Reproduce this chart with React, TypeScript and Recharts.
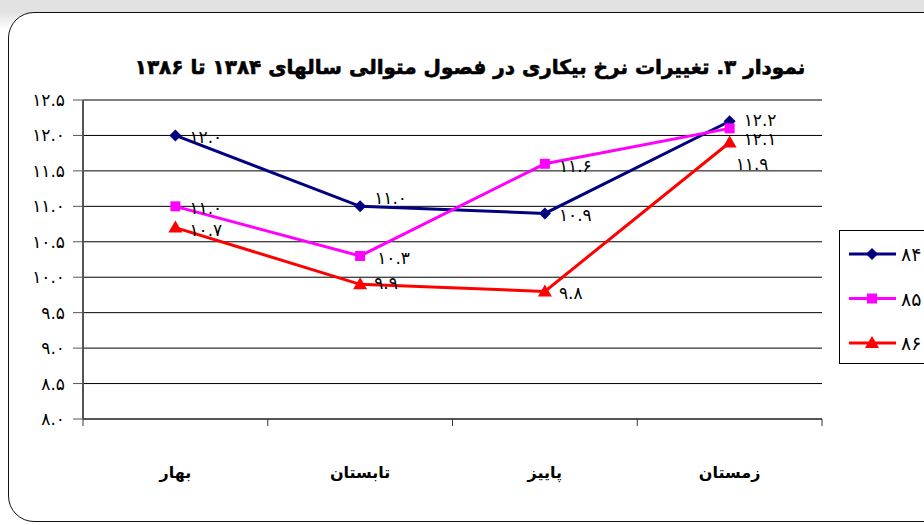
import React from "react";
import { LineChart, Line, XAxis, YAxis, CartesianGrid, LabelList } from "recharts";

const seasons = ["بهار", "تابستان", "پاییز", "زمستان"];
const seriesNames = ["۸۴", "۸۵", "۸۶"];
const rate84 = [12.0, 11.0, 10.9, 12.2];
const rate85 = [11.0, 10.3, 11.6, 12.1];
const rate86 = [10.7, 9.9, 9.8, 11.9];
const yTicks = [8, 8.5, 9, 9.5, 10, 10.5, 11, 11.5, 12, 12.5];
const xBounds = [0, 1, 2, 3, 4];

const title = "نمودار ۳. تغییرات نرخ بیکاری در فصول متوالی سالهای ۱۳۸۴ تا ۱۳۸۶";

const FA = "۰۱۲۳۴۵۶۷۸۹";
const toFa = (n: number) => n.toFixed(1).replace(/\d/g, (d) => FA[Number(d)]);

const FONT = "'DejaVu Sans', sans-serif";

const data = seasons.map((s, i) => ({
  season: s,
  x: i + 0.5,
  s84: rate84[i],
  s85: rate85[i],
  s86: rate86[i],
}));

const series = [
  { key: "s84", name: seriesNames[0], color: "#000080", shape: "diamond" },
  { key: "s85", name: seriesNames[1], color: "#FF00FF", shape: "square" },
  { key: "s86", name: seriesNames[2], color: "#FF0000", shape: "triangle" },
];

// hand nudges for labels that Excel moved to avoid overlaps
const nudge: Record<string, [number, number][]> = {
  s84: [[0, 0], [0, -10], [0, 0], [0, -3]],
  s85: [[0, 0], [3, 0], [0, 0], [0, 9]],
  s86: [[0, 0], [0, -3], [0, 0], [-8, 19]],
};

function Marker({ cx, cy, shape, color }: any) {
  if (shape === "diamond") {
    return <polygon points={`${cx},${cy - 6} ${cx + 6},${cy} ${cx},${cy + 6} ${cx - 6},${cy}`} fill={color} />;
  }
  if (shape === "square") {
    return <rect x={cx - 5} y={cy - 5} width={10} height={10} fill={color} />;
  }
  return <polygon points={`${cx},${cy - 7} ${cx + 7},${cy + 5} ${cx - 7},${cy + 5}`} fill={color} />;
}

function SeasonTick(props: any) {
  const { x, y, payload, index } = props;
  const step = (props.width || 739) / seasons.length;
  if (index >= seasons.length) return null;
  return (
    <text
      x={x + step / 2}
      y={y + 52}
      textAnchor="middle"
      fontFamily={FONT}
      fontWeight="bold"
      fontSize={16}
      fill="#000"
    >
      {seasons[payload.value]}
    </text>
  );
}

function makeLabel(key: string) {
  return (p: any) => {
    const [dx, dy] = nudge[key][p.index] || [0, 0];
    return (
      <text
        x={p.x + 14 + dx}
        y={p.y + 8 + dy}
        fontFamily={FONT}
        fontSize={17}
        fill="#000"
      >
        {toFa(p.value)}
      </text>
    );
  };
}

function LegendBox() {
  return (
    <div
      style={{
        position: "absolute",
        left: 839,
        top: 230,
        width: 110,
        height: 132,
        border: "1px solid #000",
        background: "#fff",
      }}
    >
      <svg width={110} height={132}>
        {series.map((s, i) => {
          const cy = 23 + i * 44.5;
          return (
            <g key={s.key}>
              <line x1={9} x2={56} y1={cy} y2={cy} stroke={s.color} strokeWidth={3} />
              <Marker cx={32} cy={cy} shape={s.shape} color={s.color} />
              <text x={61} y={cy + 7} fontFamily={FONT} fontSize={19} fill="#000">
                {s.name}
              </text>
            </g>
          );
        })}
      </svg>
    </div>
  );
}

export default function App() {
  return (
    <div
      style={{
        position: "absolute",
        left: 0,
        top: 0,
        width: 924,
        height: 525,
        overflow: "hidden",
        background: "linear-gradient(to bottom, #e2e2e2 0px, #e2e2e2 12px, #fff 30px)",
      }}
    >
      <div
        style={{
          position: "absolute",
          left: 8,
          top: 12,
          width: 940,
          height: 508,
          border: "1.5px solid #111",
          borderRadius: 26,
          background: "#fff",
        }}
      />
      <div
        dir="rtl"
        style={{
          position: "absolute",
          left: 0,
          top: 52,
          width: 940,
          textAlign: "center",
          fontFamily: FONT,
          fontWeight: "bold",
          fontSize: 20,
          lineHeight: "30px",
          color: "#000",
          WebkitTextStroke: "0.6px #000",
        }}
      >
        {title}
      </div>
      <div style={{ position: "absolute", left: 0, top: 0 }}>
        <LineChart width={924} height={525} data={data} margin={{ top: 100, right: 102, left: 23, bottom: 76 }}>
          <CartesianGrid vertical={false} stroke="#000" strokeWidth={1} />
          <XAxis
            dataKey="x"
            type="number"
            domain={[0, 4]}
            ticks={xBounds}
            height={30}
            axisLine={{ stroke: "#555", strokeWidth: 2 }}
            tickLine={{ stroke: "#333" }}
            tickSize={7}
            tickMargin={0}
            tick={<SeasonTick />}
            interval={0}
          />
          <YAxis
            type="number"
            domain={[8, 12.5]}
            ticks={yTicks}
            width={60}
            axisLine={{ stroke: "#555", strokeWidth: 2 }}
            tickLine={{ stroke: "#555" }}
            tickSize={10}
            tickMargin={8}
            tickFormatter={toFa}
            tick={{ fontFamily: FONT, fontSize: 17, fill: "#000" }}
            interval={0}
          />
          {series.map((s) => (
            <Line
              key={s.key}
              dataKey={s.key}
              name={s.name}
              type="linear"
              stroke={s.color}
              strokeWidth={3}
              isAnimationActive={false}
              dot={(p: any) => <Marker key={`${s.key}-${p.index}`} cx={p.cx} cy={p.cy} shape={s.shape} color={s.color} />}
              activeDot={false}
            >
              <LabelList dataKey={s.key} content={makeLabel(s.key)} />
            </Line>
          ))}
        </LineChart>
      </div>
      <LegendBox />
    </div>
  );
}
